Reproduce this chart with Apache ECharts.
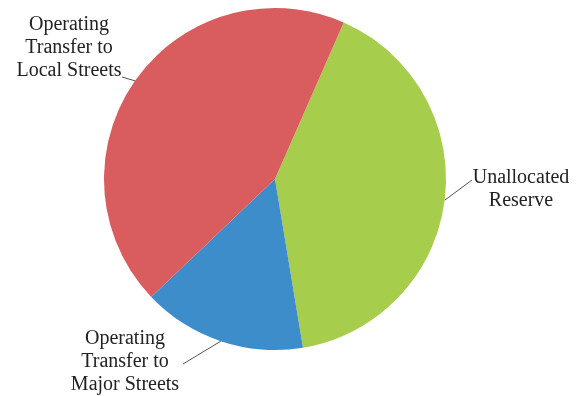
<!DOCTYPE html>
<html>
<head>
<meta charset="utf-8">
<script src="https://cdn.jsdelivr.net/npm/echarts@6/dist/echarts.min.js"></script>
<style>
html,body{margin:0;padding:0;background:#fff;}
#chart{width:583px;height:396px;}
</style>
</head>
<body>
<div id="chart"></div>
<script>
const categories = [
  'Unallocated\nReserve',
  'Operating\nTransfer to\nMajor Streets',
  'Operating\nTransfer to\nLocal Streets'
];
const values = [40.8, 15.5, 43.7];
const colors = ['#a6cd4b', '#3d8dcb', '#d95c5e'];
const labelSpots = [[521, 189], [125, 362], [69, 48]];
const lineEnds = [[472, 180], [183, 364], [122, 77]];

const chart = echarts.init(document.getElementById('chart'));
chart.setOption({
  backgroundColor: '#ffffff',
  animation: false,
  series: [{
    type: 'pie',
    center: [275, 179],
    radius: 171,
    startAngle: 66.3,
    clockwise: true,
    data: categories.map((c, i) => ({ name: c, value: values[i], itemStyle: { color: colors[i] } })),
    itemStyle: { borderWidth: 0 },
    label: {
      show: true,
      formatter: '{b}',
      fontFamily: 'Liberation Serif',
      fontSize: 20,
      lineHeight: 23,
      color: '#222',
      align: 'center'
    },
    labelLine: {
      show: true,
      length: 8,
      length2: 8,
      lineStyle: { color: '#555', width: 1 }
    },
    labelLayout: function (p) {
      const s = labelSpots[p.dataIndex];
      const start = p.labelLinePoints ? p.labelLinePoints[0] : null;
      const out = { x: s[0], y: s[1], align: 'center', verticalAlign: 'middle' };
      if (start) out.labelLinePoints = [start, lineEnds[p.dataIndex]];
      return out;
    }
  }]
});
</script>
</body>
</html>
